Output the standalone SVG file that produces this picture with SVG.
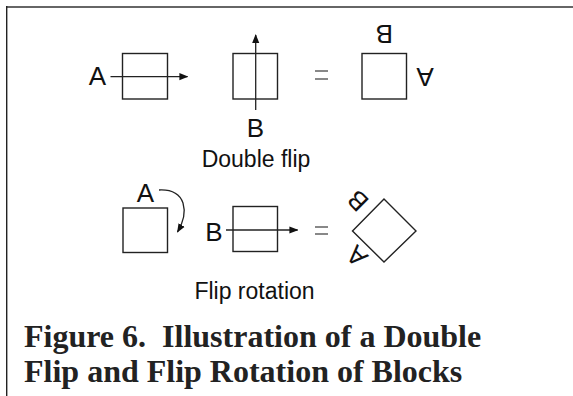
<svg xmlns="http://www.w3.org/2000/svg" width="573" height="396" viewBox="0 0 573 396">
<style>
.box{fill:none;stroke:#222;stroke-width:1.4}
.ln{fill:none;stroke:#222;stroke-width:1.3}
.eq{fill:none;stroke:#555;stroke-width:1.4}
.lbl{font-family:"Liberation Sans",Arial,sans-serif;font-size:26px;fill:#111;text-anchor:middle}
.sub{font-family:"Liberation Sans",Arial,sans-serif;font-size:23px;fill:#111;text-anchor:middle}
.cap{font-family:"Liberation Serif","Times New Roman",serif;font-size:32px;font-weight:bold;fill:#222}
</style>
<defs>
<marker id="ah" viewBox="0 0 10 10" refX="9" refY="5" markerWidth="9" markerHeight="9" markerUnits="userSpaceOnUse" orient="auto">
<path d="M0,1 L10,5 L0,9 Z" fill="#111"/>
</marker>
</defs>
<rect width="573" height="396" fill="#fff"/>
<g id="frame">
<line x1="6" y1="7" x2="573" y2="7" stroke="#666" stroke-width="2"/>
<line x1="6.7" y1="6" x2="6.7" y2="396" stroke="#222" stroke-width="1.4"/>
</g>
<g id="block1"><rect class="box" x="122.5" y="53.5" width="45" height="45.5"/><text class="lbl" x="97.5" y="85">A</text></g>
<g id="block2"><rect class="box" x="233" y="53.5" width="44.5" height="45.5"/><text class="lbl" x="255.5" y="136.5">B</text></g>
<g id="eq1"><line class="eq" x1="315" y1="71" x2="328" y2="71"/><line class="eq" x1="315" y1="79" x2="328" y2="79"/></g>
<g id="block3"><rect class="box" x="362" y="53.5" width="44.5" height="45.5"/>
<text class="lbl" transform="translate(384.3,34.5) rotate(180)" x="0" y="9.3">B</text>
<text class="lbl" transform="translate(425,77.5) rotate(180)" x="0" y="9.3">A</text></g>
<text class="sub" x="256" y="167">Double flip</text>
<g id="block4"><rect class="box" x="123" y="208" width="44.5" height="44.5"/><text class="lbl" x="145.5" y="202">A</text></g>
<g id="block5"><rect class="box" x="233" y="206.5" width="44.5" height="45"/><text class="lbl" x="214" y="240.5">B</text></g>
<g id="eq2"><line class="eq" x1="315" y1="227" x2="328" y2="227"/><line class="eq" x1="315" y1="234" x2="328" y2="234"/></g>
<g id="block6"><path class="box" d="M352.5,231 L384,199 L416,231 L384,262 Z"/>
<text class="lbl" transform="translate(357.5,201) rotate(225)" x="0" y="9.3">B</text>
<text class="lbl" transform="translate(356.5,256.5) rotate(225)" x="0" y="9.3">A</text></g>
<text class="sub" x="254.5" y="299">Flip rotation</text>
<g id="connectors">
<line class="ln" x1="110.5" y1="76.7" x2="187.5" y2="76.7" marker-end="url(#ah)"/>
<line class="ln" x1="255.7" y1="110" x2="255.7" y2="35" marker-end="url(#ah)"/>
<line class="ln" x1="226" y1="230" x2="297.5" y2="230" marker-end="url(#ah)"/>
<path class="ln" d="M159,190 Q178,189 183,203 Q187,216 177.5,232" marker-end="url(#ah)"/>
</g>
<text class="cap" x="24" y="347" xml:space="preserve">Figure 6.  Illustration of a Double</text>
<text class="cap" x="24" y="382">Flip and Flip Rotation of Blocks</text>
</svg>
